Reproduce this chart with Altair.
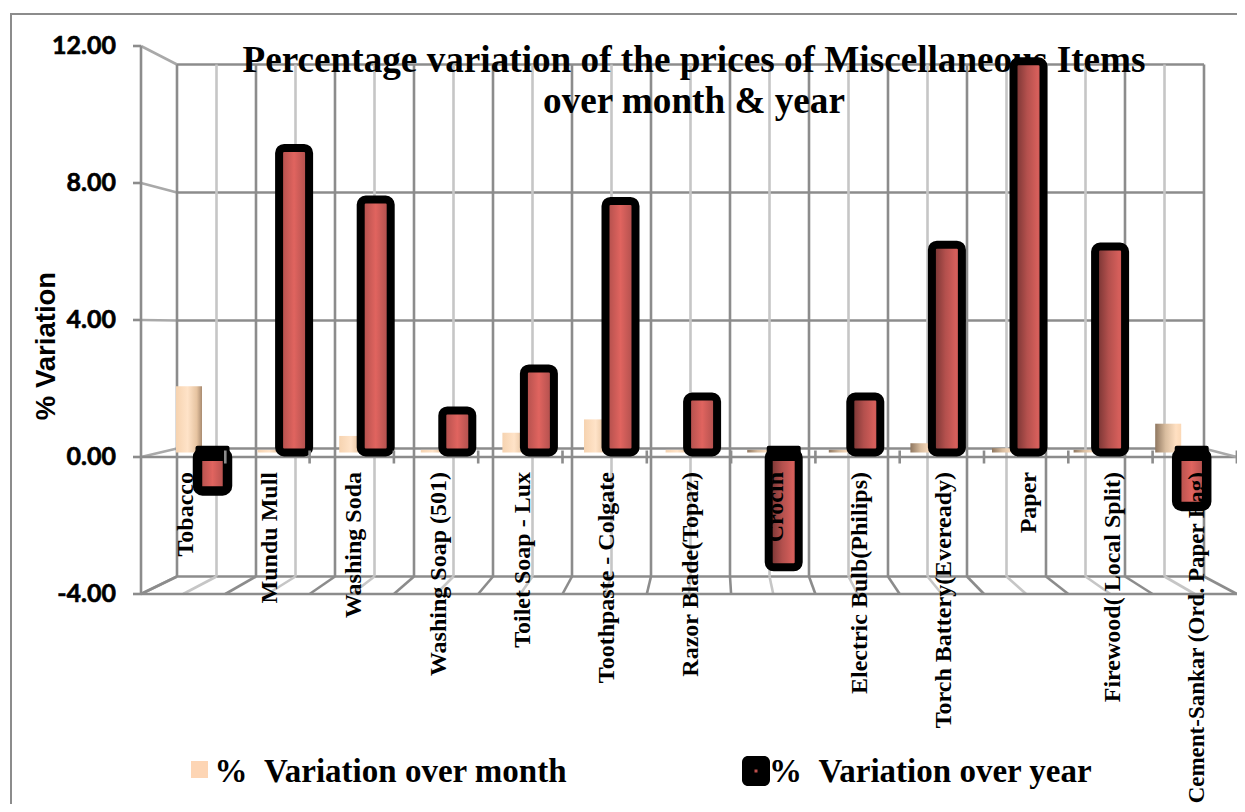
import altair as alt
import pandas as pd

categories = ["Tobacco", "Mundu Mull", "Washing Soda", "Washing Soap (501)", "Toilet Soap - Lux",
              "Toothpaste - Colgate", "Razor Blade(Topaz)", "Crocin", "Electric Bulb(Philips)",
              "Torch Battery(Eveready)", "Paper", "Firewood( Local Split)", "Cement-Sankar (Ord. Paper Bag)"]
over_month = [2.0, 0.08, 0.5, 0.08, 0.6, 1.0, 0.08, 0.08, 0.08, 0.28, 0.13, 0.08, 0.87]
over_year = [-1.16, 9.2, 7.64, 1.27, 2.54, 7.6, 1.69, -3.47, 1.69, 6.28, 11.82, 6.22, -1.63]
y_ticks = [12, 8, 4, 0, -4]
title_lines = ["Percentage variation of the prices of Miscellaneous Items", "over month & year"]
y_title = "% Variation"
legend_month = "%\u00a0\u00a0Variation over month"
legend_year = "%\u00a0\u00a0Variation over year"

W, H = 1229, 796
PX_X, PX_Y = 84.3, 34.25
xmin = -133 / PX_X
ymax = 449 / PX_Y
xs = alt.Scale(domain=[xmin, xmin + W / PX_X], range=[0, W], nice=False, zero=False)
ys = alt.Scale(domain=[ymax - H / PX_Y, ymax], range=[H, 0], nice=False, zero=False)
X = lambda f: alt.X(f, type="quantitative", scale=xs, axis=None)
Y = lambda f: alt.Y(f, type="quantitative", scale=ys, axis=None)
X2 = lambda f: alt.X2(f)
Y2 = lambda f: alt.Y2(f)

# projection of the wall: back wall is shrunk and offset compared with the front plane
BACK_X0, BACK_DX = 36 / PX_X, 39.5 / PX_X
def back_y(v):
    return (32.0 * v + 8.5) / PX_Y
def bar_y(v):
    return (33.1 * v + 4.5) / PX_Y

DARK, LIGHT, MID = "#8c8c8c", "#c6c6c6", "#a9a9a9"
segments = []
for v in y_ticks:
    segments.append(dict(x=BACK_X0, x2=BACK_X0 + 26 * BACK_DX, y=back_y(v), y2=back_y(v), c=DARK))   # back
    segments.append(dict(x=0, x2=BACK_X0, y=v, y2=back_y(v), c=MID))                                # side wall
    segments.append(dict(x=xmin + 125 / PX_X, x2=0, y=v, y2=v, c=DARK))                             # tick
for k in range(27):
    bx = BACK_X0 + k * BACK_DX
    col = DARK if k % 2 == 0 else LIGHT
    segments.append(dict(x=bx, x2=bx, y=back_y(-4), y2=back_y(12), c=col))
    segments.append(dict(x=bx, x2=k / 2, y=back_y(-4), y2=-4, c=col))
segments.append(dict(x=0, x2=0, y=-4, y2=12, c=DARK))
segments.append(dict(x=0, x2=13, y=-4, y2=-4, c=DARK))
segments.append(dict(x=0, x2=13, y=0, y2=0, c=DARK))
segments.append(dict(x=BACK_X0 + 26 * BACK_DX, x2=13, y=back_y(0), y2=0, c=MID))
seg_df = pd.DataFrame(segments)

grid = alt.Chart(seg_df).mark_rule(strokeWidth=2.6).encode(
    x=X("x"), x2=X2("x2"), y=Y("y"), y2=Y2("y2"), color=alt.Color("c:N", scale=None))

tick_df = pd.DataFrame([dict(x=i, y=-0.19, y2=0.19) for i in range(1, 14)])
ticks = alt.Chart(tick_df).mark_rule(strokeWidth=2.6, color=DARK).encode(x=X("x"), y=Y("y"), y2=Y2("y2"))

BAR_STEP = 81.6 / PX_X
M0, Y0 = 48 / PX_X, 71.5 / PX_X
M_W, Y_W = 26 / PX_X, 30 / PX_X
rows = []
for i, c in enumerate(categories):
    mc, yc = M0 + i * BAR_STEP, Y0 + i * BAR_STEP
    rows.append(dict(cat=c, i=i, v=over_year[i], mx=mc - M_W / 2, mx2=mc + M_W / 2,
                     my=bar_y(0), my2=bar_y(over_month[i]),
                     yx=yc - Y_W / 2, yx2=yc + Y_W / 2, yy=bar_y(0), yy2=bar_y(over_year[i]), lx=i + 0.53))
df = pd.DataFrame(rows)

def grad(stops):
    return alt.Gradient(gradient="linear", x1=0, x2=1, y1=0, y2=0,
                        stops=[alt.GradientStop(color=c, offset=o) for o, c in stops])

m_left = grad([(0, "#f6d3b0"), (0.45, "#ffe3c8"), (0.8, "#e6c3a0"), (1, "#a98b70")])
m_right = grad([(0, "#8f7760"), (0.4, "#d9bd9f"), (0.8, "#ffe0c2"), (1, "#fbd8b6")])
r_left = grad([(0, "#a94c49"), (0.5, "#e0645f"), (0.85, "#b85350"), (1, "#8f3f3d")])
r_right = grad([(0, "#6b2f2e"), (0.45, "#b3504d"), (0.8, "#d65f5b"), (1, "#c45754")])

def month_bars(d, g):
    return alt.Chart(d).mark_bar(fill=g, stroke=None).encode(x=X("mx"), x2=X2("mx2"), y=Y("my"), y2=Y2("my2"))
def year_bars(d, g, sw=8):
    return alt.Chart(d).mark_bar(fill=g, stroke="#000000", strokeWidth=sw, cornerRadius=5, strokeJoin="round").encode(
        x=X("yx"), x2=X2("yx2"), y=Y("yy"), y2=Y2("yy2"))

short_neg = df[(df.v < 0) & (df.v > -2)]
ldf = df[(df.i < 7) & ~df.i.isin(short_neg.i)]
rdf = df[(df.i >= 7) & ~df.i.isin(short_neg.i)]

# the dark rim of the cylinder's top for the bars that hang below zero
neg = df[df.v < 0].assign(c1=bar_y(0.14), c2=bar_y(-0.2))
caps = alt.Chart(neg).mark_bar(color="#000000", stroke="#000000", strokeWidth=4, strokeJoin="round").encode(
    x=X("yx"), x2=X2("yx2"), y=Y("c1"), y2=Y2("c2"))

def label_layer(d, size):
    return alt.Chart(d).mark_text(font="Liberation Serif", fontWeight="bold", fontSize=size, angle=270,
                                  align="right", baseline="middle", color="#000000").encode(
        x=X("lx"), y=alt.value(464), text="cat:N")

tick_text = alt.Chart(pd.DataFrame(dict(v=y_ticks, t=[f"{v:.2f}" for v in y_ticks]))).mark_text(
    font="Lato", fontWeight="bold", fontSize=25, align="right", baseline="middle", color="#000000",
    stroke="#000000", strokeWidth=0.6).encode(
    x=alt.value(108), y=Y("v"), text="t:N")

axis_title = alt.Chart(pd.DataFrame(dict(t=[y_title]))).mark_text(
    font="Liberation Sans", fontWeight="bold", fontSize=27.5, angle=270, align="center", baseline="middle",
    color="#000000").encode(x=alt.value(38.5), y=alt.value(338), text="t:N")

title_df = pd.DataFrame(dict(t=title_lines, py=[53, 93.5]))
title = alt.Chart(title_df).mark_text(font="Liberation Serif", fontWeight="bold", fontSize=37.2, align="center",
                                      baseline="middle", color="#000000").encode(
    x=alt.value(686), y=alt.Y("py:Q", scale=None, axis=None), text="t:N")

frame = alt.Chart(pd.DataFrame(dict(x=[2], x2=[W], y=[6], y2=[6]))).mark_rule(color=DARK, strokeWidth=2).encode(
    x=alt.X("x:Q", scale=None, axis=None), x2="x2:Q", y=alt.Y("y:Q", scale=None, axis=None))
frame_left = alt.Chart(pd.DataFrame(dict(x=[3], y=[6], y2=[H]))).mark_rule(color=DARK, strokeWidth=2).encode(
    x=alt.X("x:Q", scale=None, axis=None), y=alt.Y("y:Q", scale=None, axis=None), y2="y2:Q")

leg_text = alt.Chart(pd.DataFrame(dict(t=[legend_month, legend_year], px=[206.5, 761]))).mark_text(
    font="Liberation Serif", fontWeight="bold", fontSize=33, align="left", baseline="middle", color="#000000").encode(
    x=alt.X("px:Q", scale=None, axis=None), y=alt.value(764), text="t:N")
leg_sq = alt.Chart(pd.DataFrame(dict(a=[183], b=[200], c=[753], d=[770]))).mark_rect(color="#fdd5b4").encode(
    x=alt.X("a:Q", scale=None, axis=None), x2="b:Q", y=alt.Y("c:Q", scale=None, axis=None), y2="d:Q")
leg_sq2 = alt.Chart(pd.DataFrame(dict(a=[734], b=[762], c=[748], d=[778]))).mark_bar(
    color="#000000", cornerRadius=6).encode(
    x=alt.X("a:Q", scale=None, axis=None), x2="b:Q", y=alt.Y("c:Q", scale=None, axis=None), y2="d:Q")
leg_dot = alt.Chart(pd.DataFrame(dict(a=[746.5], b=[749.5], c=[761.5], d=[764.5]))).mark_rect(color="#c0504d").encode(
    x=alt.X("a:Q", scale=None, axis=None), x2="b:Q", y=alt.Y("c:Q", scale=None, axis=None), y2="d:Q")

chart = alt.layer(
    frame, frame_left, grid, title,
    month_bars(df[df.i < 7], m_left), month_bars(df[df.i >= 7], m_right),
    year_bars(ldf, r_left), year_bars(rdf, r_right), year_bars(short_neg, r_left, 9.5), caps,
    ticks, label_layer(df[df.i < 12], 24), label_layer(df[df.i == 12], 23),
    tick_text, axis_title, leg_sq, leg_sq2, leg_dot, leg_text,
).resolve_scale(x="independent", y="independent").properties(
    width=W, height=H, padding=0, autosize=alt.AutoSizeParams(type="none"), background="#ffffff"
).configure_view(stroke=None)

chart.save("out.html", embed_options={"renderer": "svg", "actions": False})
